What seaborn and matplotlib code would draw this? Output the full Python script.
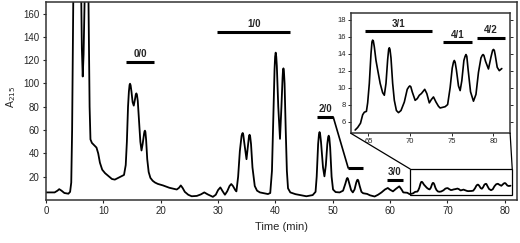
import numpy as np
import pandas as pd
import matplotlib
matplotlib.use("Agg")
import matplotlib.pyplot as plt
from matplotlib.patches import Rectangle, ConnectionPatch
import seaborn as sns

# chromatogram trace (time in min, A215)
time = [0, 1.5, 2.0, 2.3, 2.7, 3.2, 3.9, 4.2, 4.4, 4.55, 4.7, 4.8, 5.0, 5.8, 6.1, 6.25,
        6.4, 6.55, 6.8, 7.0, 7.3, 7.45, 7.6, 7.75, 8.0, 8.4, 8.8, 9.1, 9.4, 9.8, 10.3,
        10.9, 11.5, 12.0, 12.6, 13.2, 13.6, 13.9, 14.1, 14.3, 14.45, 14.57, 14.65, 14.75,
        14.9, 15.1, 15.3, 15.5, 15.65, 15.75, 15.85, 16.0, 16.2, 16.45, 16.65, 16.85,
        17.1, 17.18, 17.25, 17.33, 17.45, 17.65, 17.9, 18.2, 18.6, 19.0, 19.5, 20.4,
        21.5, 22.8, 23.2, 23.5, 23.8, 24.2, 24.8, 25.4, 26.3, 27.0, 27.6, 28.2, 29.1,
        29.6, 30.0, 30.4, 30.8, 31.2, 31.6, 32.0, 32.3, 32.6, 33.0, 33.2, 33.5, 33.8,
        34.1, 34.2, 34.3, 34.4, 34.55, 34.96, 35.25, 35.4, 35.5, 35.6, 35.75, 36.0,
        36.4, 36.8, 37.3, 38.7, 39.1, 39.4, 39.65, 39.85, 39.95, 40.05, 40.15, 40.25,
        40.5, 40.8, 41.05, 41.25, 41.32, 41.4, 41.48, 41.6, 41.8, 42.0, 42.2, 42.6,
        43.5, 45.4, 46.5, 47.0, 47.2, 47.45, 47.6, 47.7, 47.8, 47.95, 48.3, 48.55,
        48.8, 49.05, 49.2, 49.3, 49.4, 49.55, 49.8, 50.05, 50.5, 51.2, 51.8, 52.2,
        52.45, 52.55, 52.65, 52.9, 53.2, 53.5, 53.8, 54.1, 54.25, 54.35, 54.45, 54.7,
        55.0, 55.3, 56.0, 56.5, 57.3, 57.9, 58.5, 59.1, 59.6, 60.0, 60.5, 61.0, 61.6,
        62.0, 62.3, 63.0, 63.4, 63.7, 64.04, 64.3, 64.5, 64.75, 64.9, 65.1, 65.3,
        65.42, 65.5, 65.58, 65.7, 65.9, 66.1, 66.4, 66.7, 66.9, 67.1, 67.3, 67.42,
        67.5, 67.58, 67.7, 67.9, 68.1, 68.35, 68.6, 68.9, 69.3, 69.65, 69.85, 69.96,
        70.08, 70.25, 70.6, 70.85, 71.1, 71.35, 71.75, 72.0, 72.3, 72.55, 72.8, 73.1,
        73.4, 73.6, 74.2, 74.5, 74.8, 75.05, 75.2, 75.3, 75.4, 75.55, 75.8, 76.0,
        76.2, 76.45, 76.6, 76.7, 76.8, 76.95, 77.25, 77.6, 77.9, 78.2, 78.5, 78.65,
        78.75, 78.85, 79.05, 79.4, 79.7, 79.9, 80.0, 80.1, 80.2, 80.45, 80.7, 81.0]
absorb = [6.5, 6.5, 8.0, 9.3, 8.0, 6.0, 5.4, 7, 15, 60, 140, 200, 260, 270, 190, 130,
          106, 125, 190, 250, 220, 150, 80, 52, 49, 47, 45, 40, 32, 26, 23,
          20.5, 18, 17.5, 19, 20.5, 21.5, 30, 50, 80, 93, 98.8, 99.8, 98.5,
          93, 84, 81, 86, 90.5, 91.5, 90.5, 85, 70, 50, 42.5, 48,
          57, 59, 59.5, 58.5, 52, 35, 24, 19, 16.5, 15, 13.8, 12.5,
          10.5, 9, 10.5, 12.5, 10.5, 7, 4.5, 3.2, 3.5, 4.8, 6.5, 4.8, 2.7,
          4.5, 8.5, 10.8, 7.5, 4.5, 7.5, 12, 13.7, 12, 8.5, 7.4, 20, 42,
          55, 56.8, 57.5, 56, 50, 35, 48, 55, 56, 54.5, 48, 28,
          12, 8, 6.5, 5.1, 6, 25, 75, 112, 123, 126.5, 123, 115,
          80, 52.5, 80, 105, 111, 113, 111, 100, 60, 25, 10, 6.5,
          5, 3.2, 4.2, 7, 20, 48, 56.5, 58.3, 56.5, 50, 28, 20.3,
          30, 48, 54, 55.2, 53.5, 45, 20, 9, 6.8, 6.5, 8, 14,
          18.3, 18.9, 18.3, 14, 8.5, 6.5, 9, 15, 17, 17.4, 16.8, 12,
          7, 5.8, 5.2, 4, 3, 4.5, 6.5, 9, 10.3, 8.8, 7.4, 9.5, 11.7,
          9, 6.5, 6.2, 5.0, 5.3, 5.8, 6.8, 7.1, 7.2, 8.2, 10.5, 14,
          15.4, 15.6, 15.5, 14.8, 13.2, 12.1, 10.5, 9.4, 9.1, 10.5, 13.3, 14.5,
          14.7, 14.5, 13.5, 10.5, 8.5, 7.3, 7.05, 7.3, 8.3, 9.8, 10.1, 10.2,
          10.1, 9.5, 8.5, 8.7, 9.1, 9.3, 9.8, 9.3, 8.2, 8.6, 8.9, 8.3,
          7.8, 7.6, 7.75, 8.0, 10, 12.3, 13.0, 13.2, 13.0, 12.1, 10.2, 9.65,
          10.8, 13.2, 13.7, 13.9, 13.7, 12.2, 9.5, 8.4, 9.2, 11.8, 13.5, 13.8,
          13.9, 13.8, 13.1, 12.2, 13.6, 14.4, 14.5, 14.4, 13.9, 12.4, 12.0, 12.25]

# fraction bars on the main chart
main_labels = ["0/0", "1/0", "3/0"]
main_start = [13.9, 29.9, 59.4]
main_end = [18.9, 42.6, 62.3]
main_level = [118.8, 144.0, 17.4]

# 2/0 bar with its leader line
bar20_t = [47.3, 50.1, 52.7, 55.3]
bar20_a = [71.0, 71.0, 27.4, 27.4]

# fraction bars in the inset
inset_labels = ["3/1", "4/1", "4/2"]
inset_start = [64.6, 74.0, 78.0]
inset_end = [72.6, 77.4, 81.4]
inset_level = [16.7, 15.4, 15.9]

trace = pd.DataFrame({"Time": time, "A215": absorb})

sns.set_theme(style="ticks")
plt.rcParams["font.family"] = ["Liberation Sans", "DejaVu Sans"]

fig = plt.figure(figsize=(5.2, 2.43), dpi=100)
ax = fig.add_axes([0.0885, 0.177, 0.9065, 0.815])

sns.lineplot(data=trace, x="Time", y="A215", ax=ax, color="black",
             linewidth=1.3, estimator=None, sort=False)
ax.set_xlim(0, 82.2)
ax.set_ylim(0, 170)
ax.set_xticks(np.arange(0, 81, 10))
ax.set_yticks(np.arange(20, 161, 20))
ax.tick_params(labelsize=7, length=2.5, width=0.8, direction="out", pad=2)
ax.set_xlabel("Time (min)", fontsize=8, labelpad=4)
ax.set_ylabel("A$_{215}$", fontsize=7.5)
ax.yaxis.set_label_coords(-0.06, 0.52)
for sp in ax.spines.values():
    sp.set_color("#333333")
    sp.set_linewidth(1.1)

for lab, s, e, lv in zip(main_labels, main_start, main_end, main_level):
    ax.plot([s, e], [lv, lv], color="black", lw=2.2, solid_capstyle="butt")
    ax.text((s + e) / 2, lv + 2.5, lab, ha="center", va="bottom",
            fontsize=7, fontweight="bold")
ax.plot(bar20_t[:2], bar20_a[:2], color="black", lw=2.2, solid_capstyle="butt")
ax.plot(bar20_t[1:3], bar20_a[1:3], color="black", lw=1.2)
ax.plot(bar20_t[2:], bar20_a[2:], color="black", lw=2.2, solid_capstyle="butt")
ax.text(48.7, bar20_a[0] + 2.5, "2/0", ha="center", va="bottom",
        fontsize=7, fontweight="bold")

# zoom box on the main chart
ax.add_patch(Rectangle((63.5, 4.0), 81.3 - 63.5, 26.6 - 4.0, fill=False,
                       edgecolor="black", lw=0.9))

ins = fig.add_axes([0.675, 0.451, 0.306, 0.4955])
sns.lineplot(data=trace[trace["Time"] >= 63.4], x="Time", y="A215", ax=ins,
             color="black", linewidth=1.2, estimator=None, sort=False)
ins.set_xlim(62.9, 82.0)
ins.set_ylim(4.6, 18.8)
ins.set_xticks([65, 70, 75, 80])
ins.set_yticks(np.arange(6, 19, 2))
ins.set_xlabel("")
ins.set_ylabel("")
ins.tick_params(labelsize=5.5, length=2, width=0.7, direction="out", pad=1.5,
                right=True)
for sp in ins.spines.values():
    sp.set_color("#333333")
    sp.set_linewidth(1.1)
for lab, s, e, lv in zip(inset_labels, inset_start, inset_end, inset_level):
    ins.plot([s, e], [lv, lv], color="black", lw=2.2, solid_capstyle="butt")
    ins.text((s + e) / 2, lv + 0.25, lab, ha="center", va="bottom",
             fontsize=7, fontweight="bold")

for corner, xb in [((0, 0), 63.5), ((1, 0), 81.3)]:
    con = ConnectionPatch(xyA=corner, coordsA=ins.transAxes,
                          xyB=(xb, 26.6), coordsB=ax.transData,
                          color="black", lw=0.9)
    fig.add_artist(con)

fig.savefig("out.png", dpi=100)
